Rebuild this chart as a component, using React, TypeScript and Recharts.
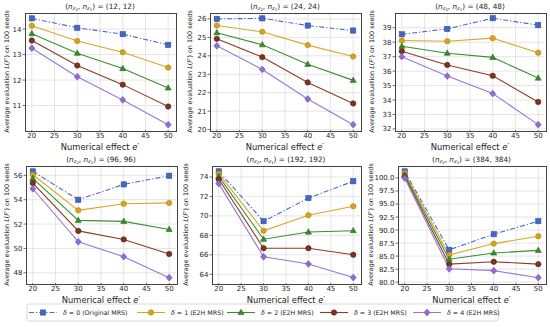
import React from 'react';
import { LineChart, Line, XAxis, YAxis, CartesianGrid } from 'recharts';

const FONT = 'DejaVu Sans';

const xValues = [20, 30, 40, 50];
const xTicks = [20, 25, 30, 35, 40, 45, 50];

const seriesLabels = ['0 (Original MRS)', '1 (E2H MRS)', '2 (E2H MRS)', '3 (E2H MRS)', '4 (E2H MRS)'];
const lineColors = ['#4a6cc2', '#d9a62a', '#3c8f30', '#8f3b27', '#9479d8'];
const markerFill = ['#4466c4', '#d6a21f', '#3a8a2c', '#7e3220', '#8c6ed6'];
const markerEdge = ['#2f4fa8', '#b8860b', '#2a6e1e', '#5e2214', '#6e50b8'];
const markerShapes = ['square', 'circle', 'triangle', 'circle', 'diamond'];

// (12,12)
const p12_d0 = [14.42, 14.05, 13.8, 13.38];
const p12_d1 = [14.13, 13.53, 13.09, 12.49];
const p12_d2 = [13.82, 13.05, 12.45, 11.69];
const p12_d3 = [13.55, 12.57, 11.82, 10.96];
const p12_d4 = [13.25, 12.13, 11.22, 10.25];
// (24,24)
const p24_d0 = [26.0, 26.03, 25.64, 25.37];
const p24_d1 = [25.64, 25.3, 24.58, 23.96];
const p24_d2 = [25.25, 24.6, 23.54, 22.67];
const p24_d3 = [24.92, 23.93, 22.56, 21.42];
const p24_d4 = [24.54, 23.26, 21.66, 20.27];
// (48,48)
const p48_d0 = [38.55, 38.92, 39.66, 39.18];
const p48_d1 = [38.12, 38.07, 38.28, 37.27];
const p48_d2 = [37.72, 37.24, 36.95, 35.52];
const p48_d3 = [37.38, 36.43, 35.68, 33.87];
const p48_d4 = [37.0, 35.66, 34.45, 32.3];
// (96,96)
const p96_d0 = [56.33, 54.0, 55.26, 55.97];
const p96_d1 = [56.05, 53.13, 53.67, 53.74];
const p96_d2 = [55.75, 52.3, 52.22, 51.56];
const p96_d3 = [55.37, 51.44, 50.74, 49.54];
const p96_d4 = [54.9, 50.54, 49.32, 47.6];
// (192,192)
const p192_d0 = [74.58, 69.45, 71.83, 73.56];
const p192_d1 = [74.34, 68.47, 70.07, 70.99];
const p192_d2 = [74.07, 67.6, 68.34, 68.48];
const p192_d3 = [73.76, 66.68, 66.68, 66.0];
const p192_d4 = [73.32, 65.8, 65.06, 63.66];
// (384,384)
const p384_d0 = [101.27, 86.2, 89.2, 91.7];
const p384_d1 = [100.95, 85.2, 87.4, 88.8];
const p384_d2 = [100.6, 84.4, 85.6, 86.1];
const p384_d3 = [100.3, 83.45, 83.9, 83.45];
const p384_d4 = [100.0, 82.55, 82.2, 80.85];

const yTicks12 = [11, 12, 13, 14];
const yTicks24 = [20, 21, 22, 23, 24, 25, 26];
const yTicks48 = [32, 33, 34, 35, 36, 37, 38, 39];
const yTicks96 = [48, 50, 52, 54, 56];
const yTicks192 = [64, 66, 68, 70, 72, 74];
const yTicks384 = [80, 82.5, 85, 87.5, 90, 92.5, 95, 97.5, 100];

const buildRows = (series: number[][]) =>
  xValues.map((x, i) => {
    const row: any = { x };
    series.forEach((s, k) => (row['d' + k] = s[i]));
    return row;
  });

type Panel = {
  n: number;
  series: number[][];
  domain: [number, number];
  ticks: number[];
  fmt: (v: number) => string;
  left: number;
  right: number;
  top: number;
  bottom: number;
  ylabelX: number;
};

const ROW1 = { top: 13, bottom: 130 };
const ROW2 = { top: 166, bottom: 283 };

const panels: Panel[] = [
  { n: 12, series: [p12_d0, p12_d1, p12_d2, p12_d3, p12_d4], domain: [10.04, 14.63], ticks: yTicks12, fmt: (v) => String(v), left: 25, right: 175, ...ROW1, ylabelX: 7 },
  { n: 24, series: [p24_d0, p24_d1, p24_d2, p24_d3, p24_d4], domain: [19.98, 26.32], ticks: yTicks24, fmt: (v) => String(v), left: 210, right: 360, ...ROW1, ylabelX: 190 },
  { n: 48, series: [p48_d0, p48_d1, p48_d2, p48_d3, p48_d4], domain: [31.93, 40.02], ticks: yTicks48, fmt: (v) => String(v), left: 395, right: 545, ...ROW1, ylabelX: 372 },
  { n: 96, series: [p96_d0, p96_d1, p96_d2, p96_d3, p96_d4], domain: [47.16, 56.77], ticks: yTicks96, fmt: (v) => String(v), left: 26, right: 176, ...ROW2, ylabelX: 7 },
  { n: 192, series: [p192_d0, p192_d1, p192_d2, p192_d3, p192_d4], domain: [63.1, 75.13], ticks: yTicks192, fmt: (v) => String(v), left: 212, right: 360, ...ROW2, ylabelX: 186 },
  { n: 384, series: [p384_d0, p384_d1, p384_d2, p384_d3, p384_d4], domain: [79.83, 102.3], ticks: yTicks384, fmt: (v) => v.toFixed(1), left: 398, right: 545, ...ROW2, ylabelX: 371 },
];

const Marker = ({ shape, cx, cy, fill, stroke, s = 1 }: any) => {
  if (cx == null || cy == null) return null;
  if (shape === 'square') {
    const h = 2.6 * s;
    return <rect x={cx - h} y={cy - h} width={2 * h} height={2 * h} fill={fill} stroke={stroke} strokeWidth={0.6} />;
  }
  if (shape === 'triangle') {
    return (
      <polygon
        points={`${cx},${cy - 3.3 * s} ${cx - 3 * s},${cy + 2.1 * s} ${cx + 3 * s},${cy + 2.1 * s}`}
        fill={fill}
        stroke={stroke}
        strokeWidth={0.6}
      />
    );
  }
  if (shape === 'diamond') {
    return (
      <polygon
        points={`${cx},${cy - 3.4 * s} ${cx + 3 * s},${cy} ${cx},${cy + 3.4 * s} ${cx - 3 * s},${cy}`}
        fill={fill}
        stroke={stroke}
        strokeWidth={0.6}
      />
    );
  }
  return <circle cx={cx} cy={cy} r={2.7 * s} fill={fill} stroke={stroke} strokeWidth={0.6} />;
};

const makeDot = (k: number) => (props: any) => (
  <Marker key={props.key ?? `${k}-${props.index}`} shape={markerShapes[k]} cx={props.cx} cy={props.cy} fill={markerFill[k]} stroke={markerEdge[k]} />
);

const YW = 26;
const MT = 3;
const MR = 3;
const XH = 16;

const PanelChart = ({ p }: { p: Panel }) => {
  const data = buildRows(p.series);
  const w = p.right - p.left + YW + MR;
  const h = p.bottom - p.top + MT + XH;
  return (
    <div style={{ position: 'absolute', left: p.left - YW, top: p.top - MT, width: w, height: h }}>
      <LineChart width={w} height={h} data={data} margin={{ top: MT, right: MR, left: 0, bottom: 0 }}>
        <CartesianGrid stroke="#dadada" strokeWidth={0.7} verticalValues={xTicks} horizontalValues={p.ticks} />
        <XAxis
          dataKey="x"
          type="number"
          domain={[18.5, 51.5]}
          ticks={xTicks}
          height={XH}
          axisLine={false}
          tickSize={2.5}
          tickMargin={1}
          tickLine={{ stroke: '#333', strokeWidth: 0.7 }}
          tick={{ fontSize: 7, fill: '#262626', fontFamily: FONT }}
          interval={0}
          allowDataOverflow
        />
        <YAxis
          type="number"
          domain={p.domain}
          ticks={p.ticks}
          width={YW}
          axisLine={false}
          tickSize={2.5}
          tickMargin={1}
          tickLine={{ stroke: '#333', strokeWidth: 0.7 }}
          tick={{ fontSize: 7, fill: '#262626', fontFamily: FONT }}
          tickFormatter={p.fmt}
          interval={0}
          allowDataOverflow
        />
        {p.series.map((_, k) => (
          <Line
            key={k}
            dataKey={'d' + k}
            stroke={lineColors[k]}
            strokeWidth={1.1}
            strokeDasharray={k === 0 ? '5 2 1.3 2' : undefined}
            dot={makeDot(k)}
            activeDot={false}
            isAnimationActive={false}
          />
        ))}
      </LineChart>
    </div>
  );
};

const Title = ({ x, y, n }: { x: number; y: number; n: number }) => (
  <text x={x} y={y} textAnchor="middle" fontSize={7.3} fontFamily={FONT} fill="#222">
    (<tspan fontStyle="italic">n</tspan>
    <tspan fontStyle="italic" fontSize={5.2} dy={1.4}>z</tspan>
    <tspan fontSize={3.8} dy={1}>2</tspan>
    <tspan dy={-2.4}>, </tspan>
    <tspan fontStyle="italic">n</tspan>
    <tspan fontStyle="italic" fontSize={5.2} dy={1.4}>z</tspan>
    <tspan fontSize={3.8} dy={1}>1</tspan>
    <tspan dy={-2.4}>) = ({n}, {n})</tspan>
  </text>
);

const legendStarts = [29, 137, 227, 320, 413];

export default function App() {
  return (
    <div style={{ position: 'fixed', left: 0, top: 0, width: 550, height: 327, background: '#fff', overflow: 'hidden' }}>
      {panels.map((p, i) => (
        <PanelChart key={i} p={p} />
      ))}
      {panels.map((p, i) => (
        <div
          key={'b' + i}
          style={{
            position: 'absolute',
            left: p.left - 0.4,
            top: p.top - 0.4,
            width: p.right - p.left,
            height: p.bottom - p.top,
            border: '0.8px solid #444',
            pointerEvents: 'none',
          }}
        />
      ))}
      <svg width={550} height={327} style={{ position: 'absolute', left: 0, top: 0, pointerEvents: 'none' }}>
        {panels.map((p, i) => {
          const cx = (p.left + p.right) / 2;
          const cy = (p.top + p.bottom) / 2;
          return (
            <g key={i}>
              <Title x={cx} y={p.top - 4.5} n={p.n} />
              <text x={cx} y={p.bottom + 20} textAnchor="middle" fontSize={8.3} fontFamily={FONT} fill="#222">
                Numerical effect <tspan fontStyle="italic">e</tspan>′
              </text>
              <text
                x={p.ylabelX}
                y={cy}
                textAnchor="middle"
                dominantBaseline="central"
                fontSize={6.4}
                fontFamily={FONT}
                fill="#222"
                transform={`rotate(-90 ${p.ylabelX} ${cy})`}
              >
                Average evaluation  <tspan fontStyle="italic">L</tspan>(<tspan fontStyle="italic">F</tspan>′) on 100 seeds
              </text>
            </g>
          );
        })}
        <rect x={27} y={304} width={471} height={17} rx={2} fill="#fff" stroke="#cfcfcf" strokeWidth={0.8} />
        {seriesLabels.map((lab, k) => {
          const x0 = legendStarts[k];
          const y0 = 312.5;
          return (
            <g key={k}>
              <line
                x1={x0}
                x2={x0 + 28}
                y1={y0}
                y2={y0}
                stroke={lineColors[k]}
                strokeWidth={1.1}
                strokeDasharray={k === 0 ? '5 2 1.3 2' : undefined}
              />
              <Marker shape={markerShapes[k]} cx={x0 + 14} cy={y0} fill={markerFill[k]} stroke={markerEdge[k]} />
              <text x={x0 + 34} y={y0 + 2.3} fontSize={6.3} fontFamily={FONT} fill="#222">
                <tspan fontStyle="italic">δ</tspan> = {lab}
              </text>
            </g>
          );
        })}
      </svg>
    </div>
  );
}
